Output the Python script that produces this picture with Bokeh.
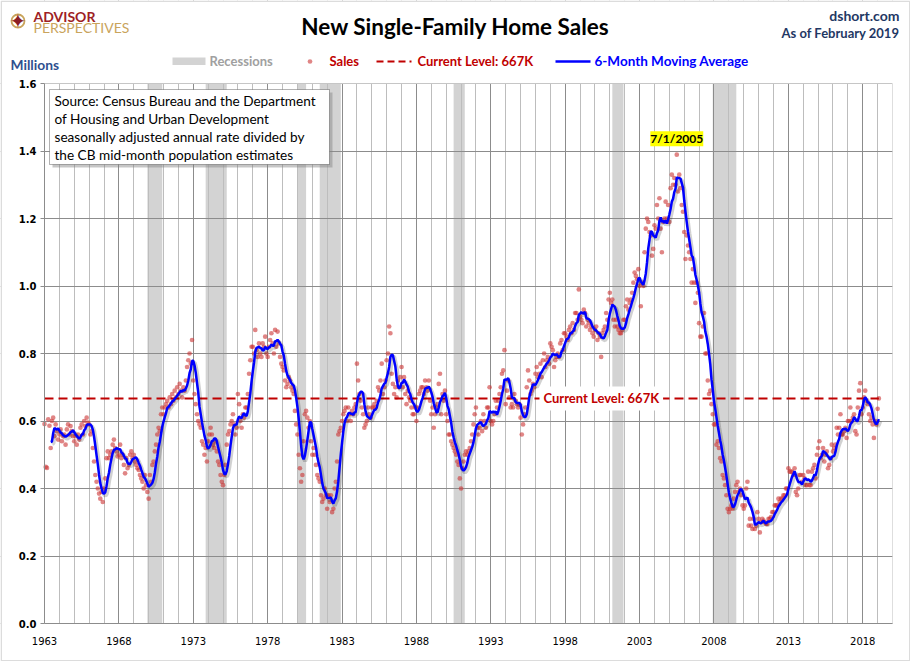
import numpy as np
import pandas as pd
from bokeh.plotting import figure
from bokeh.models import (FixedTicker, NumeralTickFormatter, Label, BoxAnnotation, Range1d)
from bokeh.embed import file_html
from bokeh.resources import INLINE

# ---------------- data (monthly SAAR, thousands) ----------------
START_YEAR = 1963
sales_1963_1969 = [
    591, 464, 461, 605, 586, 520, 600, 610, 555, 590, 570, 545,
    560, 575, 540, 555, 560, 530, 575, 590, 560, 585, 570, 555,
    540, 555, 530, 560, 545, 580, 590, 560, 600, 585, 610, 595,
    590, 560, 570, 520, 480, 440, 420, 400, 385, 370, 390, 360,
    400, 430, 490, 510, 490, 500, 510, 530, 545, 520, 510, 495,
    500, 530, 490, 500, 470, 445, 490, 460, 470, 500, 510, 490,
    500, 480, 470, 460, 455, 440, 430, 420, 400, 440, 410, 390,
]
sales_1970_1979 = [
    370, 440, 420, 470, 480, 510, 530, 560, 580, 570, 620, 640,
    620, 640, 650, 660, 640, 670, 650, 680, 660, 690, 670, 700,
    680, 710, 690, 670, 700, 690, 720, 760, 780, 800, 770, 840,
    720, 680, 650, 620, 600, 590, 580, 540, 530, 500, 520, 480,
    540, 560, 580, 560, 530, 520, 540, 510, 480, 470, 440, 420,
    410, 440, 470, 530, 560, 570, 590, 600, 620, 590, 560, 580,
    680, 650, 600, 580, 620, 610, 640, 640, 680, 740, 780, 820,
    820, 800, 870, 810, 790, 830, 800, 790, 830, 820, 850, 800,
    790, 820, 840, 860, 830, 800, 870, 820, 865, 830, 790, 770,
    760, 750, 720, 700, 710, 730, 720, 700, 690, 680, 630, 590,
]
sales_1980_1989 = [
    560, 500, 460, 420, 440, 540, 620, 630, 610, 580, 600, 540,
    500, 520, 500, 470, 440, 430, 420, 380, 360, 370, 400, 380,
    340, 380, 360, 380, 330, 340, 400, 420, 480, 560, 570, 580,
    600, 620, 630, 640, 600, 640, 620, 600, 630, 620, 640, 650,
    770, 720, 680, 660, 640, 620, 580, 590, 600, 640, 620, 610,
    640, 640, 650, 640, 660, 700, 690, 720, 770, 680, 700, 720,
    780, 800, 880, 860, 740, 710, 680, 700, 670, 720, 700, 730,
    760, 700, 730, 680, 650, 690, 670, 660, 640, 620, 620, 640,
    600, 640, 680, 690, 700, 700, 680, 720, 700, 690, 720, 660,
    620, 640, 580, 620, 640, 650, 710, 740, 620, 680, 660, 690,
]
sales_1990_1999 = [
    620, 600, 560, 560, 540, 530, 520, 510, 500, 480, 470, 430,
    400, 460, 480, 500, 510, 500, 510, 520, 540, 560, 590, 620,
    640, 580, 560, 580, 600, 570, 620, 600, 580, 640, 640, 700,
    600, 590, 600, 620, 660, 640, 660, 680, 700, 740, 750, 810,
    650, 690, 720, 670, 640, 650, 640, 680, 660, 650, 640, 650,
    610, 560, 590, 620, 640, 700, 750, 720, 680, 690, 710, 700,
    740, 760, 730, 740, 770, 730, 780, 800, 760, 780, 790, 770,
    830, 820, 810, 760, 780, 790, 800, 790, 830, 840, 810, 860,
    860, 850, 840, 870, 880, 860, 890, 870, 920, 920, 900, 990,
    910, 900, 890, 930, 920, 880, 900, 890, 870, 880, 860, 850,
]
sales_2000_2009 = [
    870, 880, 840, 860, 850, 790, 860, 870, 880, 920, 900, 960,
    980, 950, 960, 900, 880, 900, 880, 870, 860, 860, 870, 900,
    900, 940, 960, 930, 950, 960, 980, 1010, 1040, 1030, 1020, 1050,
    1000, 940, 1010, 1000, 1100, 1170, 1200, 1190, 1160, 1150, 1090, 1110,
    1180, 1170, 1240, 1200, 1260, 1170, 1100, 1190, 1200, 1250, 1200, 1240,
    1190, 1290, 1330, 1300, 1320, 1300, 1389, 1280, 1330, 1290, 1240, 1220,
    1160, 1080, 1150, 1120, 1100, 1080, 1010, 1050, 1010, 950, 1010, 980,
    890, 850, 850, 880, 920, 800, 800, 720, 680, 690, 650, 620,
    590, 590, 530, 540, 520, 490, 480, 440, 430, 410, 380, 340,
    330, 340, 350, 340, 370, 390, 410, 420, 390, 400, 380, 350,
]
sales_2010_2019 = [
    340, 350, 400, 420, 290, 310, 290, 280, 310, 280, 290, 330,
    310, 270, 300, 310, 305, 300, 295, 295, 310, 310, 315, 330,
    330, 350, 350, 350, 370, 360, 370, 370, 380, 380, 400, 400,
    460, 450, 450, 450, 440, 460, 390, 380, 400, 440, 440, 420,
    440, 430, 410, 410, 450, 410, 410, 450, 460, 470, 430, 500,
    520, 540, 490, 500, 520, 480, 500, 510, 460, 470, 490, 530,
    510, 520, 530, 580, 560, 580, 620, 560, 560, 570, 580, 550,
    600, 600, 640, 600, 610, 620, 570, 560, 640, 690, 712, 620,
    640, 670, 690, 660, 650, 620, 600, 610, 590, 550, 600, 590,
    636, 667,
]
rec_start = ["1969-12", "1973-11", "1980-01", "1981-07", "1990-07", "2001-03", "2007-12"]
rec_end = ["1970-11", "1975-03", "1980-07", "1982-11", "1991-03", "2001-11", "2009-06"]
x_ticks = list(range(1963, 2019, 5))
y_ticks = [0.0, 0.2, 0.4, 0.6, 0.8, 1.0, 1.2, 1.4, 1.6]
source_lines = ["Source: Census Bureau and the Department",
                "of Housing and Urban Development",
                "seasonally adjusted annual rate divided by",
                "the CB mid-month population estimates"]
title_text = "New Single-Family Home Sales"
site_text = "dshort.com"
asof_text = "As of February 2019"
unit_text = "Millions"

sales = np.array(sales_1963_1969 + sales_1970_1979 + sales_1980_1989 +
                 sales_1990_1999 + sales_2000_2009 + sales_2010_2019) / 1000.0
xs = START_YEAR + np.arange(len(sales)) / 12.0
ma = pd.Series(sales).rolling(6).mean().to_numpy()
ok = ~np.isnan(ma)

def ym_start(s):
    y, m = s.split("-")
    return int(y) + (int(m) - 1) / 12.0

def ym_end(s):
    y, m = s.split("-")
    return int(y) + int(m) / 12.0

rl = [ym_start(s) for s in rec_start]
rr = [ym_end(s) for s in rec_end]
cur = sales[-1]
cur_text = "Current Level: %dK" % int(round(cur * 1000))

# ---------------- geometry ----------------
W, H = 910, 661
PL, PR, PT, PB = 44, 892, 83, 623          # plot area in pixels
X0, X1 = 1963, 2020
Y0, Y1 = 0.0, 1.6
DX = (X1 - X0) / (PR - PL)
DY = (Y1 - Y0) / (PB - PT)

def px_x(X):
    return X0 + (X - PL) * DX

def px_y(Y):
    return Y1 - (Y - PT) * DY

p = figure(width=W, height=H,
           x_range=Range1d(px_x(0), px_x(W)), y_range=Range1d(px_y(H), px_y(0)),
           output_backend="svg", toolbar_location=None,
           min_border=0, min_border_left=0, min_border_right=0,
           min_border_top=0, min_border_bottom=0)
p.outline_line_color = None
p.background_fill_color = "white"

p.xaxis.ticker = FixedTicker(ticks=x_ticks, minor_ticks=list(range(X0, X1 + 1)))
p.yaxis.ticker = FixedTicker(ticks=y_ticks)
p.yaxis.formatter = NumeralTickFormatter(format="0.0")
p.xaxis.fixed_location = Y0
p.yaxis.fixed_location = X0
p.xaxis.bounds = (X0, X1)
p.yaxis.bounds = (Y0, Y1)
for ax in (p.xaxis, p.yaxis):
    ax.axis_line_color = "#8c8c8c"
    ax.minor_tick_line_color = None
    ax.major_label_text_font = "DejaVu Sans"
    ax.major_label_text_font_size = "10px"
    ax.major_label_text_color = "black"
p.xaxis.major_tick_line_color = None
p.xaxis.major_label_standoff = 7
p.yaxis.major_tick_line_color = "#8c8c8c"
p.yaxis.major_tick_out = 4
p.yaxis.major_tick_in = 0
p.yaxis.major_label_standoff = 4
p.yaxis.major_label_text_font_style = "bold"

p.xgrid.grid_line_color = "#8c8c8c"
p.xgrid.minor_grid_line_color = "#bdbdbd"
p.ygrid.grid_line_color = "#8c8c8c"

# white masks so grid lines stay inside the plot area
for kw in (dict(bottom=Y1), dict(top=Y0), dict(right=X0), dict(left=X1)):
    p.add_layout(BoxAnnotation(fill_color="white", fill_alpha=1.0, line_color=None,
                               level="underlay", **kw))

# recessions
p.quad(left=rl, right=rr, bottom=Y0, top=Y1, fill_color="#d3d3d3", line_color=None, level="image")

# sales dots
p.scatter(xs, sales, size=4.7, fill_color="#cc3333", fill_alpha=0.6, line_color=None)

# current level
p.line([xs[0], xs[-1]], [cur, cur], line_color="#c00000", line_width=2, line_dash="9 5")

# moving average with shadow
p.line(xs[ok] + 1.5 * DX, ma[ok] - 2.0 * DY, line_color="black", line_alpha=0.18, line_width=4)
p.line(xs[ok], ma[ok], line_color="#0000ff", line_width=2.5)

def lab(X, Y, text, size="13px", color="black", style="normal", align="left",
        baseline="middle", font="Lato", **kw):
    p.add_layout(Label(x=px_x(X), y=px_y(Y), text=text, text_font=font, text_font_size=size,
                       text_color=color, text_font_style=style, text_align=align,
                       text_baseline=baseline, **kw))

# current level label
p.add_layout(Label(x=px_x(539), y=cur, text=cur_text, text_font="Lato", text_font_size="13px",
                   text_font_style="bold", text_color="#c00000", text_align="left",
                   text_baseline="middle", background_fill_color="white", padding=4))

# peak label
ip = int(np.argmax(sales))
py_, pm_ = START_YEAR + ip // 12, ip % 12 + 1
p.add_layout(Label(x=xs[ip], y=sales[ip] + 16 * DY, text="%d/1/%d" % (pm_, py_),
                   text_font="Lato", text_font_size="12px", text_font_style="bold",
                   text_color="black", text_align="center", text_baseline="middle",
                   background_fill_color="#ffff00", padding=0))

# source box
p.add_layout(BoxAnnotation(left=px_x(52), right=px_x(332), top=px_y(92), bottom=px_y(167),
                           fill_color="#808080", fill_alpha=0.45, line_color=None))
p.add_layout(BoxAnnotation(left=px_x(49), right=px_x(329), top=px_y(89), bottom=px_y(164),
                           fill_color="white", fill_alpha=1.0, line_color="black", line_width=1))
for i, s in enumerate(source_lines):
    lab(54, 100 + 18 * i, s, size="13.6px")

# header: logo
p.scatter([px_x(17.5)], [px_y(20.5)], marker="circle", size=13, fill_color=None,
          line_color="#c9a45c", line_width=1.8)
lab(17.5, 20.5, "\u2726", size="20px", color="#8b1e24", align="center", font="DejaVu Sans")
lab(33, 15.5, "ADVISOR", size="14px", color="#9e1f25", style="bold")
lab(33, 26.5, "PERSPECTIVES", size="14px", color="#c9a45c")
# title and right texts
lab(455, 25.5, title_text, size="22.5px", style="bold", align="center")
lab(899, 15, site_text, size="14px", color="#1f3864", style="bold", align="right")
lab(899, 32, asof_text, size="13px", color="#1f3864", style="bold", align="right")
lab(10, 63.5, unit_text, size="13.8px", color="#2f4f8f", style="bold")

# legend
p.add_layout(BoxAnnotation(left=px_x(172), right=px_x(205), top=px_y(57), bottom=px_y(64.5),
                           fill_color="#d3d3d3", fill_alpha=1, line_color=None))
lab(209, 60.5, "Recessions", color="#a0a0a0", style="bold")
p.scatter([px_x(309.5)], [px_y(61)], size=4.7, fill_color="#cc3333", fill_alpha=0.6, line_color=None)
lab(329, 60.5, "Sales", color="#c00000", style="bold")
lab(417, 60.5, cur_text, color="#c00000", style="bold")
lab(594, 60.5, "6-Month Moving Average", size="13.5px", color="#0000ff", style="bold")
p.line([px_x(376), px_x(411)], [px_y(61), px_y(61)], line_color="#c00000", line_width=2,
       line_dash="7 4")
p.line([px_x(555), px_x(590)], [px_y(61), px_y(61)], line_color="#0000ff", line_width=2.5)

# outer frame
p.add_layout(BoxAnnotation(left=px_x(0.75), right=px_x(909.25), top=px_y(0.75), bottom=px_y(660.25),
                           fill_alpha=0, line_color="#8c8c8c", line_width=1.5))

open("out.html", "w").write(file_html(p, INLINE))
